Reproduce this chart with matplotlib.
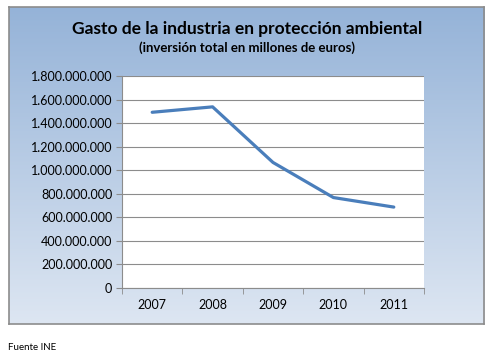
import numpy as np
import matplotlib
matplotlib.use("Agg")
import matplotlib.pyplot as plt
from matplotlib.ticker import FuncFormatter

# data
years = ['2007', '2008', '2009', '2010', '2011']
gasto = [1492000000, 1538000000, 1066000000, 768000000, 687000000]
y_ticks = [0, 200000000, 400000000, 600000000, 800000000, 1000000000,
           1200000000, 1400000000, 1600000000, 1800000000]

plt.rcParams['font.family'] = ['Lato', 'DejaVu Sans']

W, H = 494, 358
fig = plt.figure(figsize=(W / 100, H / 100), dpi=100)

# chart box with vertical gradient (Excel style)
bg = fig.add_axes([9 / W, 1 - 324 / H, 475 / W, 317 / H])
top = np.array([149, 179, 216]) / 255
bot = np.array([221, 230, 242]) / 255
t = np.linspace(0, 1, 256)[:, None]
grad = top[None, :] * (1 - t) + bot[None, :] * t
bg.imshow(grad[:, None, :], aspect='auto', extent=[0, 1, 0, 1])
bg.set_xticks([])
bg.set_yticks([])
for s in bg.spines.values():
    s.set_color('#8c8c8c')
    s.set_linewidth(1.2)

fig.text(247 / W, 1 - 29 / H, 'Gasto de la industria en protección ambiental',
         ha='center', va='center', fontsize=12.5, fontweight='bold', color='black')
fig.text(247 / W, 1 - 48 / H, '(inversión total en millones de euros)',
         ha='center', va='center', fontsize=9.5, fontweight='bold', color='black')

# plot area
ax = fig.add_axes([122 / W, 1 - 288 / H, 302 / W, 212 / H])
ax.set_facecolor('white')
x = np.arange(len(years))
ax.plot(x, gasto, color='#4A7EBB', linewidth=2.3, solid_capstyle='round')

ax.set_xlim(-0.5, len(years) - 0.5)
ax.set_ylim(0, 1800000000)
ax.set_yticks(y_ticks)
ax.yaxis.set_major_formatter(FuncFormatter(lambda v, p: f'{int(v):,}'.replace(',', '.')))
ax.grid(axis='y', color='#8c8c8c', linewidth=0.8)
ax.set_axisbelow(True)

ax.set_xticks(x)
ax.set_xticklabels(years)
ax.set_xticks(np.arange(-0.5, len(years)), minor=True)
ax.tick_params(axis='x', which='major', length=0, pad=8, labelsize=9)
ax.tick_params(axis='x', which='minor', length=4, color='#8c8c8c', direction='out')
ax.tick_params(axis='y', length=4, color='#8c8c8c', direction='out', labelsize=9, pad=3)

for name in ['top', 'right']:
    ax.spines[name].set_visible(False)
for name in ['left', 'bottom']:
    ax.spines[name].set_color('#8c8c8c')
    ax.spines[name].set_linewidth(0.8)

fig.text(8 / W, 1 - 347 / H, 'Fuente INE', ha='left', va='center', fontsize=7, color='black')

fig.savefig('out.png', dpi=100)
